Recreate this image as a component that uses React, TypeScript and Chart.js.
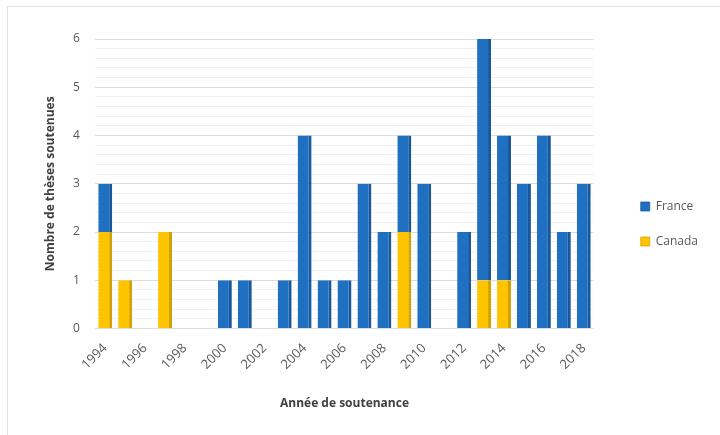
import React, { useEffect, useRef } from "react";
import { Chart, registerables } from "chart.js";

Chart.register(...registerables);

const years = [
  "1994", "1995", "1996", "1997", "1998", "1999", "2000", "2001", "2002", "2003",
  "2004", "2005", "2006", "2007", "2008", "2009", "2010", "2011", "2012", "2013",
  "2014", "2015", "2016", "2017", "2018",
];
const canada = [2, 1, 0, 2, 0, 0, 0, 0, 0, 0, 0, 0, 0, 0, 0, 2, 0, 0, 0, 1, 1, 0, 0, 0, 0];
const france = [1, 0, 0, 0, 0, 0, 1, 1, 0, 1, 4, 1, 1, 3, 2, 2, 3, 0, 2, 5, 3, 3, 4, 2, 3];

const FONT = "'Open Sans', 'Liberation Sans', sans-serif";

const legendWiden = {
  id: "legendWiden",
  afterInit(chart: any) {
    const lg = chart.legend;
    if (!lg || lg.__patched) return;
    const origFit = lg.fit.bind(lg);
    lg.fit = function () {
      origFit();
      this.width += 38;
    };
    const origDraw = lg.draw.bind(lg);
    lg.draw = function () {
      const ctx = this.ctx;
      ctx.save();
      ctx.translate(24, -3);
      origDraw();
      ctx.restore();
    };
    lg.__patched = true;
  },
};

export default function App() {
  const ref = useRef<HTMLCanvasElement | null>(null);
  useEffect(() => {
    if (!ref.current) return;
    const chart = new Chart(ref.current, {
      type: "bar",
      data: {
        labels: years,
        datasets: [
          {
            label: "Canada",
            data: canada,
            backgroundColor: "#ffc400",
            borderColor: "#d4a200",
            borderWidth: { right: 3 } as any,
            borderSkipped: false,
          },
          {
            label: "France",
            data: france,
            backgroundColor: "#1f70c1",
            borderColor: "#17579a",
            borderWidth: { right: 3 } as any,
            borderSkipped: false,
          },
        ],
      },
      plugins: [legendWiden],
      options: {
        animation: false,
        responsive: true,
        maintainAspectRatio: false,
        datasets: { bar: { barPercentage: 0.7, categoryPercentage: 1 } },
        layout: { padding: { left: 35, right: 4, top: 32, bottom: 30 } },
        plugins: {
          legend: {
            position: "right",
            reverse: true,
            labels: {
              boxWidth: 9,
              boxHeight: 9,
              padding: 23,
              color: "#595959",
              font: { family: FONT, size: 12 },
            },
          },
          tooltip: { enabled: false },
        },
        scales: {
          x: {
            stacked: true,
            grid: { display: false },
            border: { display: false },
            ticks: {
              autoSkip: false,
              maxRotation: 45,
              minRotation: 45,
              padding: 4,
              color: "#595959",
              font: { family: FONT, size: 13 },
              callback: (_v: any, i: number) => (i % 2 === 0 ? years[i] : ""),
            },
            title: {
              display: true,
              text: "Année de soutenance",
              color: "#404040",
              font: { family: FONT, size: 12, weight: "bold" },
              padding: { top: 20 },
            },
          },
          y: {
            stacked: true,
            min: 0,
            max: 6,
            border: { display: false },
            grid: {
              drawTicks: false,
              color: (ctx: any) => {
                const v = ctx.tick ? ctx.tick.value : 0;
                return Math.abs(v - Math.round(v)) < 1e-6 ? "#d9dce3" : "#eef0f4";
              },
              lineWidth: 1,
            },
            ticks: {
              stepSize: 0.2,
              autoSkip: false,
              color: "#595959",
              padding: 15.5,
              font: { family: FONT, size: 12 },
              callback: (v: any) => {
                const n = Number(v);
                return Math.abs(n - Math.round(n)) < 1e-6 ? String(Math.round(n)) : "";
              },
            },
            title: {
              display: true,
              text: "Nombre de thèses soutenues",
              color: "#404040",
              font: { family: FONT, size: 12, weight: "bold" },
              padding: { top: 0, bottom: 0 },
            },
          },
        },
      },
    });
    return () => chart.destroy();
  }, []);
  return (
    <div
      style={{
        position: "absolute",
        left: 7,
        top: 6,
        width: 720,
        height: 440,
        border: "1px solid #dfe4ec",
        boxSizing: "border-box",
        background: "#fff",
      }}
    >
      <canvas ref={ref} />
    </div>
  );
}
